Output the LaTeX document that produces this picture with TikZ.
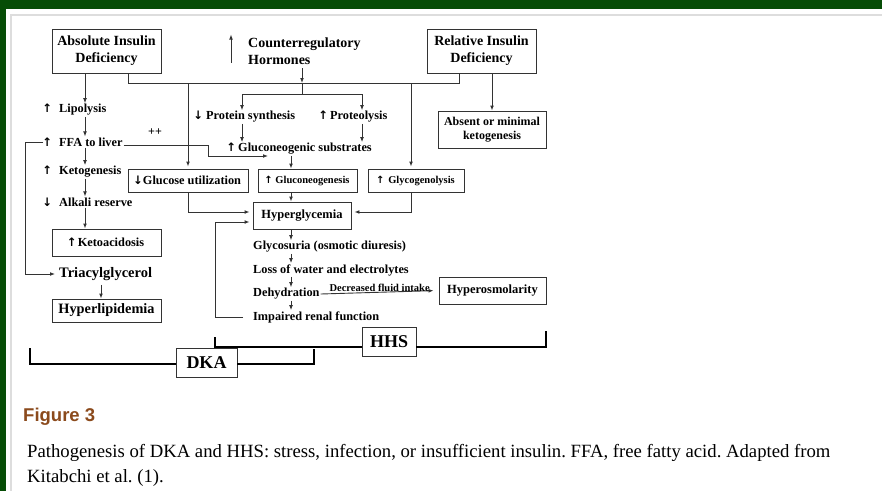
\documentclass[tikz,border=0pt]{standalone}
\usepackage{fontspec}
\setmainfont{Liberation Serif}
\newfontfamily\capsans{Liberation Sans}
\newfontfamily\arrf{DejaVu Sans}[Scale=0.95]
\usetikzlibrary{arrows.meta,calc}
\definecolor{band}{HTML}{064D06}
\definecolor{figbrown}{HTML}{8B4A1C}
\definecolor{frameg}{HTML}{DDDDDD}
\definecolor{ink}{HTML}{333333}
\newcommand{\fsz}[2]{\fontsize{#1}{#2}\selectfont}
\newcommand{\upar}{\makebox[6pt]{\arrf ↑}}
\newcommand{\dnar}{\makebox[6pt]{\arrf ↓}}
\tikzset{
  box/.style={draw=ink, line width=0.9pt, inner sep=0pt, align=center, font=\bfseries\fsz{12.3}{14}},
  lbl/.style={inner sep=1pt, anchor=west, font=\bfseries\fsz{12.3}{14}},
  link/.style={draw=ink, line width=0.9pt},
  arr/.style={link, -{Latex[length=5pt,width=3.8pt]}},
  brk/.style={draw=black, line width=1.8pt},
}
\begin{document}
\begin{tikzpicture}[x=1pt,y=-1pt]
\useasboundingbox (0,0) rectangle (882,491);
\fill[white] (0,0) rectangle (882,491);
\fill[band] (0,0) rectangle (882,9);
\fill[band] (0,0) rectangle (6,491);
\draw[frameg, line width=1.2pt] (10,15) -- (882,15);
\draw[frameg, line width=1.2pt] (11,15) -- (11,491);

% top row
\node[box, minimum width=109pt, minimum height=44pt, font=\bfseries\fsz{14}{17}] (abs) at (106.5,51) {Absolute Insulin\\Deficiency};
\node[box, minimum width=109pt, minimum height=44pt, font=\bfseries\fsz{14}{17}] (rel) at (481.5,51) {Relative Insulin\\Deficiency};
\node[anchor=west, inner sep=0pt, align=left, font=\bfseries\fsz{14}{17}] (cnt) at (248,51.5) {Counterregulatory\\Hormones};
\draw[arr] ($(cnt.west)+(-17,11)$) -- ($(cnt.west)+(-17,-17)$);
\node[box, minimum width=108pt, minimum height=37pt, font=\bfseries\fsz{12}{14}] (absent) at (492,129.5) {Absent or minimal\\ketogenesis};

% left column
\node[lbl] (lip) at (43,110) {\upar\hspace{9pt}Lipolysis};
\node[lbl] (ffa) at (43,142) {\upar\hspace{9pt}FFA to liver};
\node[lbl] (keto) at (43,172) {\upar\hspace{9pt}Ketogenesis};
\node[lbl] (alk) at (43,202) {\dnar\hspace{9pt}Alkali reserve};
\node[box, minimum width=109pt, minimum height=27pt] (ketoac) at (106.5,242.5) {\upar\hspace{3pt}Ketoacidosis};
\node[lbl, inner sep=4pt, font=\bfseries\fsz{14.5}{16}] (tri) at (55,274) {Triacylglycerol};
\node[box, minimum width=109pt, minimum height=23pt, font=\bfseries\fsz{14.3}{16}] (hlip) at (106.5,310.5) {Hyperlipidemia};
\node[inner sep=0pt, font=\bfseries\fsz{12}{14}] (pp) at (155,132) {++};

% middle
\node[lbl] (prot) at (194,117) {\dnar\hspace{5pt}Protein synthesis};
\node[lbl] (proteo) at (319,117) {\upar\hspace{4pt}Proteolysis};
\node[lbl] (gsub) at (227,149) {\upar\hspace{4pt}Gluconeogenic substrates};
\node[box, minimum width=120pt, minimum height=23pt] (gu) at (188,180.5) {\dnar\hspace{2pt}Glucose utilization};
\node[box, minimum width=99pt, minimum height=23pt, font=\bfseries\fsz{10.5}{12}] (gng) at (307.5,180.5) {\upar\hspace{4pt}Gluconeogenesis};
\node[box, minimum width=96pt, minimum height=23pt, font=\bfseries\fsz{10.5}{12}] (gly) at (416,180.5) {\upar\hspace{5pt}Glycogenolysis};
\node[box, minimum width=98pt, minimum height=27pt, font=\bfseries\fsz{12.5}{14}] (hyper) at (302,215.5) {Hyperglycemia};
\node[lbl] (gls) at (252,247) {Glycosuria (osmotic diuresis)};
\node[lbl] (loss) at (252,270) {Loss of water and electrolytes};
\node[lbl] (dehyd) at (252,294) {Dehydration};
\node[lbl] (renal) at (252,317) {Impaired renal function};
\node[box, minimum width=107pt, minimum height=27pt, font=\bfseries\fsz{12.5}{14}] (hos) at (492.5,290.5) {Hyperosmolarity};

% brackets
\node[box, minimum width=54pt, minimum height=29pt, font=\bfseries\fsz{18}{18}, fill=white] (hhs) at (389,341.5) {HHS};
\node[box, minimum width=61pt, minimum height=29pt, font=\bfseries\fsz{18}{18}, fill=white] (dka) at (206.5,362.5) {DKA};

% coordinates
\coordinate (cA) at (85,0);
\coordinate (cT) at (101,0);
\coordinate (busL) at (128,83);
\coordinate (busR) at (459,83);
\coordinate (hj) at (302,83);
\coordinate (split) at (302,94);
\coordinate (pa) at (242,0);
\coordinate (pb) at (362,0);
\coordinate (d1) at (188,83);
\coordinate (d2) at (411,83);
\coordinate (cF) at (291,0);
\coordinate (ffabend) at (208,0);
\coordinate (ffaend) at (268,156);
\coordinate (loopL) at (25,0);
\coordinate (loopR) at (215,0);
\coordinate (hl) at (215,337);
\coordinate (hr) at (546,331);
\coordinate (hy) at (0,347);
\coordinate (dl) at (30,348);
\coordinate (dr) at (314,349);
\coordinate (dy) at (0,364);

% connectors top
\draw[link] (abs.south -| busL) -- (busL) -- (busR) -- (rel.south -| busR);
\draw[arr, shorten <=3pt] (cnt.south -| hj) -- (hj);
\draw[link] (hj) -- (split);
\draw[arr] (split) -| (prot.north -| pa);
\draw[arr] (split) -| (proteo.north -| pb);
\draw[arr] (prot.south -| pa) -- (gsub.north -| pa);
\draw[arr] (proteo.south -| pb) -- (gsub.north -| pb);
\draw[arr, shorten >=2pt] (d1) -- (gu.north -| d1);
\draw[arr, shorten >=2pt] (d2) -- (gly.north -| d2);
\draw[arr] (rel.south -| absent.north) -- (absent.north);

% left column connectors
\draw[arr] (abs.south -| cA) -- (lip.north -| cA);
\draw[arr] (lip.south -| cA) -- (ffa.north -| cA);
\draw[arr] (ffa.south -| cA) -- (keto.north -| cA);
\draw[arr] (keto.south -| cA) -- (alk.north -| cA);
\draw[arr] (alk.south -| cA) -- (ketoac.north -| cA);
\draw[arr] (tri.south -| cT) -- (hlip.north -| cT);
\draw[arr] (ffa.west) -- (ffa.west -| loopL) |- (tri.west);
\draw[arr] ([yshift=-3pt]ffa.east) -- ([yshift=-3pt]ffa.east -| ffabend) |- (ffaend);

% middle connectors
\draw[arr] (gsub.south -| cF) -- (gng.north -| cF);
\draw[arr] (gng.south -| cF) -- (hyper.north -| cF);
\draw[arr, shorten >=3pt] (gu.south) |- ([yshift=3.5pt]hyper.west);
\draw[arr, shorten >=3pt] (gly.south -| d2) |- ([yshift=3.5pt]hyper.east);
\draw[arr] (hyper.south -| cF) -- (gls.north -| cF);
\draw[arr] (gls.south -| cF) -- (loss.north -| cF);
\draw[arr] (loss.south -| cF) -- (dehyd.north -| cF);
\draw[arr] (dehyd.south -| cF) -- (renal.north -| cF);
\draw[arr, shorten >=3pt] ([xshift=-9pt]renal.west) -- (renal.west -| loopR) |- ([yshift=-6.5pt]hyper.west);
\draw[arr, shorten >=5pt] (dehyd.east) -- node[above, inner sep=0.5pt, font=\bfseries\fsz{10.5}{12}] (dfi) {Decreased fluid intake} (hos.west);

% brackets
\draw[brk] (hl) -- (hl |- hy) -- (hhs.west |- hy);
\draw[brk] (hhs.east |- hy) -- (hr |- hy) -- (hr);
\draw[brk] (dl) -- (dl |- dy) -- (dka.west |- dy);
\draw[brk] (dka.east |- dy) -- (dr |- dy) -- (dr);

% caption
\node[anchor=base west, inner sep=0pt, font=\capsans\bfseries\fsz{18.5}{20}, text=figbrown] (fig) at (23,421) {Figure 3};
\node[anchor=base west, inner sep=0pt, font=\frenchspacing\fsz{18.7}{22}] (cap1) at (27,457) {Pathogenesis of DKA and HHS: stress, infection, or insufficient insulin. FFA, free fatty acid. Adapted from};
\node[anchor=base west, inner sep=0pt, font=\frenchspacing\fsz{18.7}{22}] (cap2) at (27,482) {Kitabchi et al. (1).};
\end{tikzpicture}
\end{document}
